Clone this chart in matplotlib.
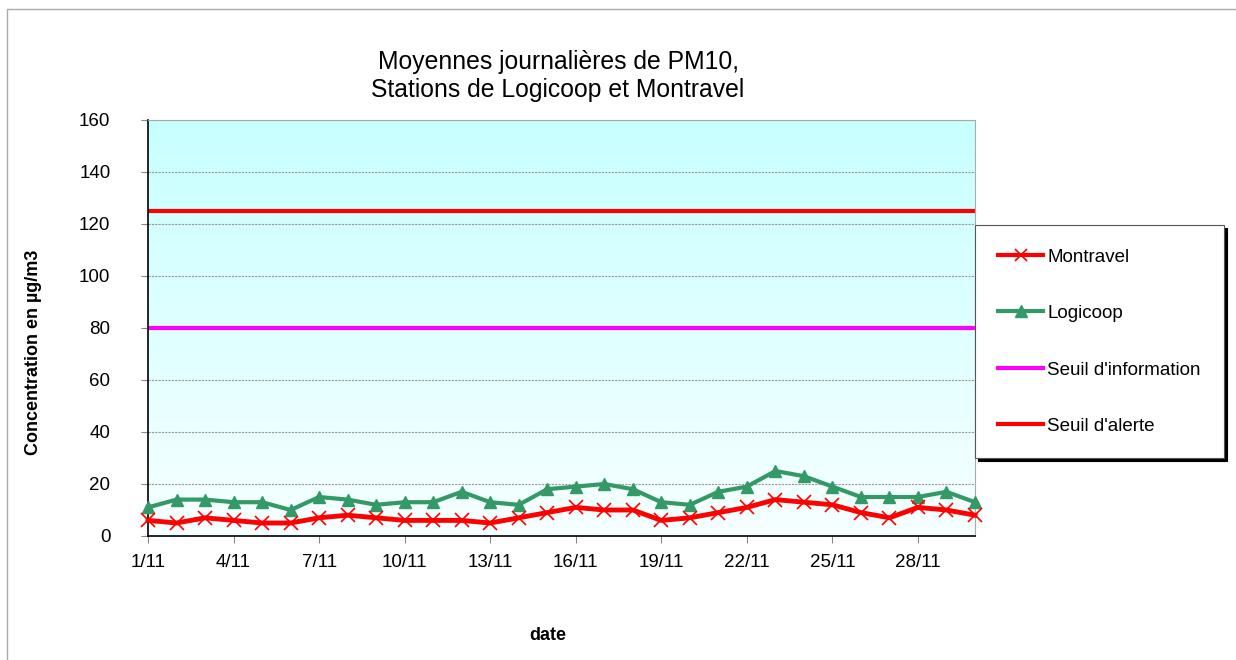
import numpy as np
import matplotlib.pyplot as plt
from matplotlib.colors import LinearSegmentedColormap
from matplotlib.patches import Rectangle
from matplotlib.lines import Line2D

plt.rcParams["font.family"] = ["Liberation Sans", "DejaVu Sans"]

# Données (µg/m3), 1er au 30 novembre
jours = [f"{d}/11" for d in range(1, 31)]
montravel = [6, 5, 7, 6, 5, 5, 7, 8, 7, 6, 6, 6, 5, 7, 9, 11, 10, 10, 6, 7,
             9, 11, 14, 13, 12, 9, 7, 11, 10, 8]
logicoop = [11, 14, 14, 13, 13, 10, 15, 14, 12, 13, 13, 17, 13, 12, 18, 19, 20, 18, 13, 12,
            17, 19, 25, 23, 19, 15, 15, 15, 17, 13]
seuil_info = 80
seuil_alerte = 125

fig = plt.figure(figsize=(12.36, 6.6), dpi=100)
W, H = 1236, 660
ax = fig.add_axes([148 / W, 1 - 536 / H, (975 - 148) / W, (536 - 120) / H])

x = np.arange(len(jours))
xmin, xmax = 0, len(jours) - 1

# fond en dégradé cyan -> blanc
cmap = LinearSegmentedColormap.from_list("fond", ["#F7FFFF", "#C8FFFF"])
grad = np.linspace(0, 1, 256).reshape(-1, 1)
ax.imshow(grad, extent=[xmin, xmax, 0, 160], origin="lower", aspect="auto",
          cmap=cmap, zorder=0)

for yv in range(20, 161, 20):
    ax.axhline(yv, color="#999999", linewidth=0.8, linestyle=(0, (2, 1)), zorder=1)

ax.axhline(seuil_alerte, color="#FF0000", linewidth=3, zorder=2)
ax.axhline(seuil_info, color="#FF00FF", linewidth=3, zorder=2)
ax.plot(x, logicoop, color="#339966", linewidth=3, marker="^", markersize=9,
        zorder=3, clip_on=False)
ax.plot(x, montravel, color="#FF0000", linewidth=3.5, marker="x", markersize=10,
        markeredgewidth=1.2, zorder=4, clip_on=False)

ax.set_xlim(xmin, xmax)
ax.set_ylim(0, 160)
ax.set_yticks(range(0, 161, 20))
ax.set_xticks(x[::3])
ax.set_xticklabels(jours[::3])
ax.tick_params(axis="both", labelsize=13.5, length=5, color="#888888", direction="out")
ax.tick_params(axis="x", pad=8)
ax.tick_params(axis="y", pad=22)

for s in ["left", "bottom"]:
    ax.spines[s].set_color("black")
    ax.spines[s].set_linewidth(1.2)
for s in ["top", "right"]:
    ax.spines[s].set_color("#AAAAAA")

fig.text(34 / W, 1 - 352 / H, "Concentration en µg/m3", fontsize=13, fontweight="bold",
         rotation=90, ha="center", va="center")
fig.text(548 / W, 1 - 636 / H, "date", fontsize=13, fontweight="bold",
         ha="center", va="center")
fig.text(558 / W, 1 - 76 / H, "Moyennes journalières de PM10,\nStations de Logicoop et Montravel",
         fontsize=17.8, ha="center", va="center", linespacing=1.2)

# légende
handles = [
    Line2D([], [], color="#FF0000", linewidth=3, marker="x", markersize=8, markeredgewidth=1.2),
    Line2D([], [], color="#339966", linewidth=3, marker="^", markersize=8),
    Line2D([], [], color="#FF00FF", linewidth=3),
    Line2D([], [], color="#FF0000", linewidth=3),
]
labels = ["Montravel", "Logicoop", "Seuil d'information", "Seuil d'alerte"]
leg = fig.legend(handles, labels, loc="upper left",
                 bbox_to_anchor=(975 / W, 1 - 225 / H), fontsize=13.5,
                 frameon=True, fancybox=False, shadow={"color": "black", "alpha": 1},
                 labelspacing=2.1, handlelength=2.4, handletextpad=0.2,
                 borderpad=1.25, borderaxespad=0)
leg.get_frame().set_edgecolor("#555555")
leg.get_frame().set_linewidth(0.8)

# cadre extérieur
fig.patches.append(Rectangle((7 / W, -0.01), 1.0, 1 - 9 / H + 0.01,
                             transform=fig.transFigure, fill=False,
                             edgecolor="#AAAAAA", linewidth=1))

fig.savefig("out.png", dpi=100)
